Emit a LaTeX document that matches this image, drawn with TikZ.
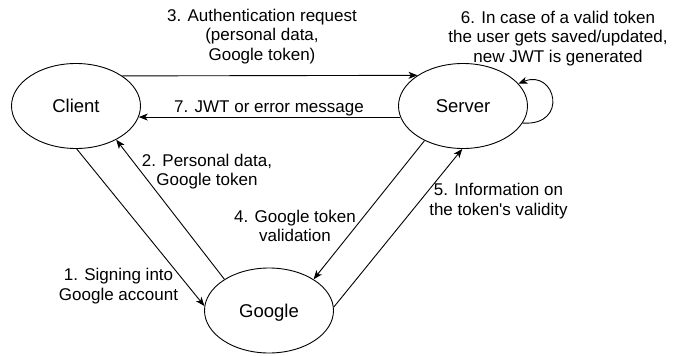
\documentclass[tikz,border=0pt]{standalone}
\usepackage{fontspec}
\setmainfont{Liberation Sans}[Ligatures=TeXOff]
\usetikzlibrary{arrows.meta,shapes.geometric}
\begin{document}
\begin{tikzpicture}[x=1pt,y=-1pt,
  ent/.style={draw, ellipse, line width=0.9pt, minimum width=129pt, minimum height=85pt,
    inner sep=0pt, font=\fontsize{18.5}{20}\selectfont, text height=15pt, text depth=1.8pt},
  lbl/.style={align=center, inner sep=0pt, font=\fontsize{17}{19.5}\selectfont},
  conn/.style={line width=0.9pt, -{Stealth[length=9pt,width=7pt,inset=2.5pt]}}]
\useasboundingbox (0,0) rectangle (683,356);
\fill[white] (0,0) rectangle (683,356);

\node[ent] (client) at (76,106) {Client};
\node[ent] (server) at (463,106) {Server};
\node[ent] (google) at (269,310.5) {Google};

\draw[conn] (client.33.3) -- (server.146.7);
\draw[conn] (server.190) -- (client.350);
\draw[conn] (client.271) -- (google.176.5);
\draw[conn] (google.145.6) -- (client.320.3);
\draw[conn] (server.222) -- (google.35.6);
\draw[conn] (google.3.1) -- (server.269);
\draw[conn] (server.344.2) .. controls +(47,3) and +(37,-15) .. (server.22.7);

\node[lbl] (l3) at (262,36.5) {3. Authentication request\\(personal data,\\Google token)};
\node[lbl] (l6) at (558,38.5) {6. In case of a valid token\\the user gets saved/updated,\\new JWT is generated};
\node[lbl] (l7) at (269,108.4) {7. JWT or error message};
\node[lbl] (l2) at (207,171.7) {2. Personal data,\\Google token};
\node[lbl] (l1) at (118.5,286) {1. Signing into\\Google account};
\node[lbl] (l4) at (295,226) {4. Google token\\validation};
\node[lbl] (l5) at (498.5,201) {5. Information on\\the token's validity};
\end{tikzpicture}
\end{document}
